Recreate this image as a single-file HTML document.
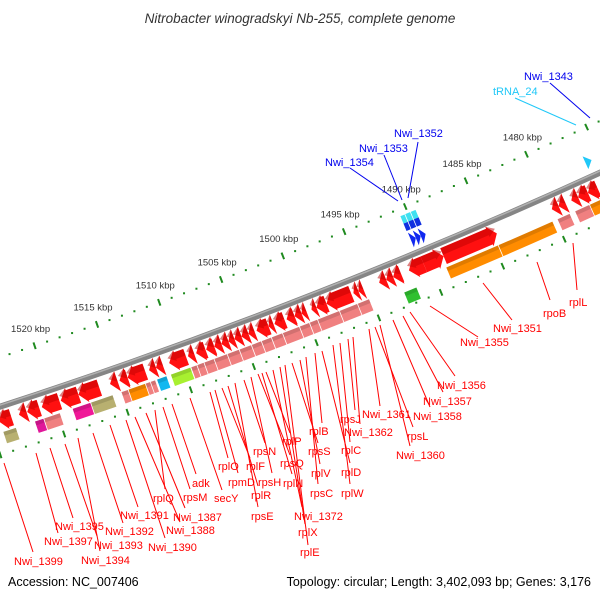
<!DOCTYPE html>
<html><head><meta charset="utf-8"><style>
html,body{margin:0;padding:0;background:#fff;}
svg{display:block;font-family:"Liberation Sans",sans-serif;}
</style></head><body>
<svg id="map" width="600" height="600" viewBox="0 0 600 600" xmlns="http://www.w3.org/2000/svg">
<text x="300" y="23" text-anchor="middle" font-size="13.5" font-style="italic" fill="#333">Nitrobacter winogradskyi Nb-255, complete genome</text>
<g id="rulers"></g>
<g id="genes"></g>
<g id="labels"></g>
<text x="8" y="586" font-size="12.5" fill="#000">Accession: NC_007406</text>
<text x="591" y="586" text-anchor="end" font-size="12.5" fill="#000">Topology: circular; Length: 3,402,093 bp; Genes: 3,176</text>
</svg>
<script>
// ---- data ----
const rulerLabels = ["1480 kbp","1485 kbp","1490 kbp","1495 kbp","1500 kbp","1505 kbp","1510 kbp","1515 kbp","1520 kbp"];
const rulerLabelKbp = [1480,1485,1490,1495,1500,1505,1510,1515,1520];
// forward-strand CDS (red), start/end kbp, dir: 1 = head at higher kbp
const cdsStart = [1522.9,1521.7,1520.7,1519.1,1517.6,1515.95,1514.5,1513.7,1512.3,1511.45,1510.9,1509.05,1508.4,1507.5,1506.8,1506.23,1505.67,1505.19,1504.63,1504.07,1503.58,1502.46,1502.06,1501.17,1500.37,1499.81,1499.41,1498.61,1497.8,1495.8,1495.23,1494.83,1492.98,1492.42,1491.78,1489.93,1488.33,1483.99,1478.93,1478.37,1477.33,1476.52,1475.72];
const cdsEnd   = [1523.9,1522.3,1521.65,1520.5,1519.0,1517.6,1515.1,1514.35,1513.7,1512.0,1511.45,1510.4,1508.9,1508.25,1507.45,1506.8,1506.23,1505.67,1505.19,1504.63,1504.07,1503.42,1502.46,1501.98,1501.01,1500.37,1499.81,1499.01,1498.61,1497.8,1495.63,1495.23,1493.55,1492.98,1492.42,1491.14,1489.93,1488.33,1479.49,1478.93,1477.89,1477.33,1476.52];
const cdsDir   = [1,1,1,1,1,1,1,1,1,1,1,1,1,1,1,1,1,1,1,1,1,1,1,1,1,1,1,1,1,1,1,1,1,1,1,1,-1,-1,1,1,1,1,1];
// COG-colored feature row
const cogStart = [1522.3,1520.13,1518.84,1516.43,1514.67,1513.46,1512.1,1511.7,1511.3,1510.4,1508.5,1508.0,1507.44,1506.64,1505.59,1504.63,1503.66,1502.86,1502.06,1501.17,1499.81,1499.01,1498.36,1496.6,1495.15,1494.19,1490.58,1483.75,1479.3,1477.89,1476.28,1475.0];
const cogEnd   = [1523.34,1520.85,1520.13,1517.88,1516.43,1514.02,1513.46,1512.1,1511.7,1511.2,1510.1,1508.48,1508.0,1507.44,1506.64,1505.59,1504.63,1503.66,1502.86,1502.06,1501.17,1499.81,1499.01,1498.36,1496.6,1495.15,1491.62,1488.0,1483.75,1478.93,1477.49,1476.28];
const cogColor = ["#b8b070","#e0189a","#f08080","#f01898","#b8b070","#f08080","#ff8c00","#f08080","#f08080","#10b8f0","#a8f030","#f08080","#f08080","#f08080","#f08080","#f08080","#f08080","#f08080","#f08080","#f08080","#f08080","#f08080","#f08080","#f08080","#f08080","#f08080","#30c030","#ff8c00","#ff8c00","#f08080","#f08080","#ff8c00"];
// label data
const labelText = ["Nwi_1399","Nwi_1397","Nwi_1395","Nwi_1393","Nwi_1394","Nwi_1392","Nwi_1391","Nwi_1390","Nwi_1388","Nwi_1387","rplQ","rpsM","adk","secY","rplO","rpmD","rplF","rplR","rpsE","rpsN","rpsH","rpsQ","rplN","rplP","Nwi_1372","rplX","rplE","rpsS","rplV","rpsC","rplB","rplD","rplW","rplC","rpsJ","Nwi_1362","Nwi_1361","rpsL","Nwi_1360","Nwi_1358","Nwi_1357","Nwi_1356","Nwi_1355","Nwi_1351","rpoB","rplL","Nwi_1354","Nwi_1353","Nwi_1352","tRNA_24","Nwi_1343"];
const labelColor = ["r","r","r","r","r","r","r","r","r","r","r","r","r","r","r","r","r","r","r","r","r","r","r","r","r","r","r","r","r","r","r","r","r","r","r","r","r","r","r","r","r","r","r","r","r","r","b","b","b","c","b"];
const labelPos = [[14,561],[44,541],[55,526],[94,545],[81,560],[105,531],[120,515],[148,547],[166,530],[173,517],[153,498],[183,497],[192,483],[214,498],[218,466],[228,482],[246,466],[251,495],[251,516],[253,451],[258,482],[280,463],[283,483],[282,441],[294,516],[298,532],[300,552],[308,451],[311,473],[310,493],[309,431],[341,472],[341,493],[341,450],[340,419],[344,432],[362,414],[407,436],[396,455],[413,416],[423,401],[437,385],[460,342],[493,328],[543,313],[569,302],[325,162],[359,148],[394,133],[493,91],[524,76]];
const lineStart = [[4,463],[36,453],[50,448],[65,444],[78,438],[93,433],[110,425],[126,420],[135,417],[146,413],[155,410],[163,407],[172,404],[190,398],[210,392],[215,390],[222,388],[228,386],[235,383],[244,380],[251,377],[258,374],[262,373],[266,372],[273,370],[280,367],[285,365],[292,363],[300,360],[306,357],[315,353],[322,351],[333,345],[340,343],[348,339],[353,337],[369,329],[375,327],[380,325],[393,320],[403,316],[410,312],[430,306],[483,283],[537,262],[573,243],[398,201],[402,200],[408,198],[576,125],[590,118]];
const lineEnd = [[33,552],[58,533],[73,518],[97,536],[100,551],[123,523],[138,507],[165,538],[180,522],[185,508],[165,489],[190,489],[196,474],[222,490],[228,458],[238,473],[250,458],[258,486],[258,507],[265,443],[272,473],[290,455],[292,474],[290,433],[302,507],[305,524],[308,545],[318,443],[320,464],[318,484],[322,423],[350,463],[350,484],[350,442],[355,410],[360,424],[380,406],[413,427],[410,446],[430,407],[443,392],[455,376],[478,337],[512,320],[550,300],[577,290],[350,168],[384,155],[418,142],[515,98],[550,83]];

// ---- geometry ----
const CX=-1720, CY=-4889, R=5568, RIN=5521, ROUT=5614;
function P(r,k){const a=(68.73+(k-1500)*0.137)*Math.PI/180;return [CX+r*Math.cos(a),CY+r*Math.sin(a)];}
function f(p){return p[0].toFixed(2)+","+p[1].toFixed(2);}
function band(k1,k2,r1,r2){
  return "M"+f(P(r1,k1))+"A"+r1+","+r1+" 0 0 1 "+f(P(r1,k2))+"L"+f(P(r2,k2))+"A"+r2+","+r2+" 0 0 0 "+f(P(r2,k1))+"Z";
}
function arrow(k1,k2,r1,r2,dir){
  const head=0.6, rm=(r1+r2)/2, len=k2-k1;
  const h=Math.min(head,len);
  if(dir>0){
    const kb=k2-h;
    let d="M"+f(P(r1,k1));
    if(kb>k1) d+="A"+r1+","+r1+" 0 0 1 "+f(P(r1,kb));
    d+="L"+f(P(r1-2,kb))+"L"+f(P(rm,k2))+"L"+f(P(r2+2,kb));
    if(kb>k1) d+="L"+f(P(r2,kb))+"A"+r2+","+r2+" 0 0 0 "+f(P(r2,k1));
    else d+="L"+f(P(r2,k1));
    return d+"Z";
  } else {
    const kb=k1+h;
    let d="M"+f(P(rm,k1))+"L"+f(P(r1-2,kb))+"L"+f(P(r1,kb));
    d+="A"+r1+","+r1+" 0 0 1 "+f(P(r1,k2))+"L"+f(P(r2,k2))+"A"+r2+","+r2+" 0 0 0 "+f(P(r2,kb))+"L"+f(P(r2+2,kb))+"Z";
    return d;
  }
}
const NS="http://www.w3.org/2000/svg";
function mk(tag,attrs,parent){const e=document.createElementNS(NS,tag);for(const a in attrs)e.setAttribute(a,attrs[a]);parent.appendChild(e);return e;}

const gR=document.getElementById("rulers");
let bb=mk("path",{d:"M"+f(P(R,1530))+"A"+R+","+R+" 0 0 0 "+f(P(R,1470)),fill:"none",stroke:"#858585","stroke-width":6},gR);


let bb2=mk("path",{d:"M"+f(P(R-1.5,1530))+"A"+(R-1.5)+","+(R-1.5)+" 0 0 0 "+f(P(R-1.5,1470)),fill:"none",stroke:"#b0b0b0","stroke-width":1.5},gR);



[RIN,ROUT].forEach(function(rr){
  for(let k=1470;k<=1530;k++){
    const major=(k%5===0);
    let e;
    if(major){
      const a=P(rr-3.5,k), b=P(rr+3.5,k);
      e=mk("line",{x1:a[0],y1:a[1],x2:b[0],y2:b[1],stroke:"#1f8a1f","stroke-width":2},gR);
      
    } else {
      const c=P(rr,k);
      e=mk("rect",{x:c[0]-1,y:c[1]-1,width:2,height:2,fill:"#1f8a1f"},gR);
      
    }
    
  }
});
rulerLabelKbp.forEach(function(k,i){
  const c=P(RIN,k);
  const t=mk("text",{x:c[0]-4,y:c[1]-14,"text-anchor":"middle","font-size":"9.5",fill:"#333"},gR);
  t.textContent=rulerLabels[i];
  
  
});

// radial offset correction (positions were read at each row's own radius)
const SH_CDS=0.45, SH_COG=0.95, SH_IN=-0.85, SH_TRNA=-0.4;
const gG=document.getElementById("genes");
cdsStart.forEach(function(s,i){
  const a=s+SH_CDS, b=cdsEnd[i]+SH_CDS;
  const p=mk("path",{d:arrow(a,b,5573,5590,cdsDir[i]),fill:"#ff1010"},gG);
  
  
  const q=mk("path",{d:arrow(a,b,5573,5580,cdsDir[i]),fill:"#c00000",opacity:"0.5"},gG);
  
  
});
cogStart.forEach(function(s,i){
  const r1 = cogColor[i]==="#30c030"?5600:5593, r2=r1+12;
  const a=s+SH_COG+0.03, b=cogEnd[i]+SH_COG-0.03;
  const p=mk("path",{d:band(a,b,r1,r2),fill:cogColor[i]},gG);
  
  
  const q=mk("path",{d:band(a,b,r1,r1+4),fill:"#000",opacity:"0.12"},gG);
  
  
});
[[1490.2,1490.65],[1490.65,1491.1],[1491.1,1491.5]].forEach(function(g){
  let a=mk("path",{d:band(g[0]+SH_IN+0.03,g[1]+SH_IN-0.03,5536,5544),fill:"#1030e0"},gG);
  
  
  let b=mk("path",{d:band(g[0]+SH_IN+0.03,g[1]+SH_IN-0.03,5528,5536),fill:"#40e0f0"},gG);
  
  
});
[[1490.6,1491.0],[1490.2,1490.6],[1489.8,1490.2]].forEach(function(g){
  let a=mk("path",{d:arrow(g[0]+SH_IN*0.5,g[1]+SH_IN*0.5,5548,5560,-1),fill:"#1028f0"},gG);
  
  
});
let tr=mk("path",{d:arrow(1476.1+SH_TRNA,1476.6+SH_TRNA,5548,5558,-1),fill:"#20c8f8"},gG);



const gL=document.getElementById("labels");
const colMap={r:"#ff0000",b:"#0000ee",c:"#20c8f8"};
labelText.forEach(function(txt,i){
  const col=colMap[labelColor[i]];
  const ln=mk("line",{x1:lineStart[i][0],y1:lineStart[i][1],x2:lineEnd[i][0],y2:lineEnd[i][1],stroke:col,"stroke-width":1},gL);
  
  
  const t=mk("text",{x:labelPos[i][0],y:labelPos[i][1]+4,"font-size":"11",fill:col},gL);
  t.textContent=txt;
  
  
});
</script>
</body></html>
